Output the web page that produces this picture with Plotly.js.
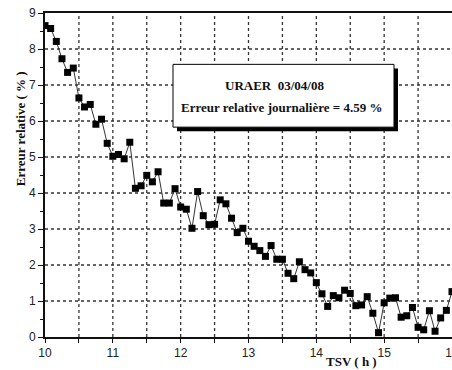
<!DOCTYPE html>
<html>
<head>
<meta charset="utf-8">
<script src="https://cdn.plot.ly/plotly-3.0.1.min.js"></script>
<style>
  html, body { margin: 0; padding: 0; background: #fff; }
  #chart { width: 452px; height: 370px; }
</style>
</head>
<body>
<div id="chart"></div>
<script>
// Solar time (h), one reading every 5 minutes
const tsv = [
  10.000, 10.083, 10.167, 10.250, 10.333, 10.417, 10.500, 10.583, 10.667, 10.750,
  10.833, 10.917, 11.000, 11.083, 11.167, 11.250, 11.333, 11.417, 11.500, 11.583,
  11.667, 11.750, 11.833, 11.917, 12.000, 12.083, 12.167, 12.250, 12.333, 12.417,
  12.500, 12.583, 12.667, 12.750, 12.833, 12.917, 13.000, 13.083, 13.167, 13.250,
  13.333, 13.417, 13.500, 13.583, 13.667, 13.750, 13.833, 13.917, 14.000, 14.083,
  14.167, 14.250, 14.333, 14.417, 14.500, 14.583, 14.667, 14.750, 14.833, 14.917,
  15.000, 15.083, 15.167, 15.250, 15.333, 15.417, 15.500, 15.583, 15.667, 15.750,
  15.833, 15.917, 16.000
];

// Relative error (%)
const erreurRelative = [
  8.65, 8.57, 8.21, 7.73, 7.35, 7.47, 6.64, 6.39, 6.46, 5.91,
  6.05, 5.38, 5.02, 5.07, 4.95, 5.41, 4.13, 4.20, 4.49, 4.31,
  4.59, 3.72, 3.72, 4.12, 3.61, 3.55, 3.02, 4.04, 3.37, 3.12,
  3.13, 3.81, 3.70, 3.30, 2.90, 3.02, 2.66, 2.52, 2.40, 2.24,
  2.54, 2.16, 2.16, 1.77, 1.62, 2.09, 1.87, 1.78, 1.51, 1.20,
  0.85, 1.15, 1.09, 1.30, 1.21, 0.87, 0.89, 1.12, 0.66, 0.12,
  0.95, 1.08, 1.09, 0.55, 0.59, 0.82, 0.27, 0.20, 0.73, 0.16,
  0.53, 0.74, 1.26
];

const xTicks = [10, 11, 12, 13, 14, 15, 16];
const xGrid = [10.5, 11, 11.5, 12, 12.5, 13, 13.5, 14, 14.5, 15, 15.5];
const yTicks = [0, 1, 2, 3, 4, 5, 6, 7, 8, 9];
const yGrid = [1, 2, 3, 4, 5, 6, 7, 8];

const stationLabel = "URAER  03/04/08";
const dailyLabel = "Erreur relative journalière = 4.59 %";
const xTitle = "TSV ( h )";
const yTitle = "Erreur relative ( % )";

const serif = "Liberation Serif, Times New Roman, serif";
const sans = "Liberation Sans, Arial, sans-serif";
const gridStyle = { color: "#333", width: 1.3, dash: "dot" };

const trace = {
  x: tsv,
  y: erreurRelative,
  type: "scatter",
  mode: "lines+markers",
  line: { color: "#333", width: 1 },
  marker: { symbol: "square", size: 7, color: "#000" },
  hoverinfo: "skip"
};

// Dotted grid drawn as line shapes under the data
const gridShapes = [];
xGrid.forEach(v => gridShapes.push({
  type: "line", layer: "below", xref: "x", yref: "paper",
  x0: v, x1: v, y0: 0, y1: 1, line: gridStyle
}));
yGrid.forEach(v => gridShapes.push({
  type: "line", layer: "below", xref: "paper", yref: "y",
  x0: 0, x1: 1, y0: v, y1: v, line: gridStyle
}));

// Box geometry in paper units
const bx0 = 0.3145, bx1 = 0.8575, by0 = 0.6477, by1 = 0.8415;
const sdx = 0.0098, sdy = 0.0125;

const layout = {
  width: 452,
  height: 370,
  margin: { l: 45, r: 0, t: 12.5, b: 32.5 },
  paper_bgcolor: "#fff",
  plot_bgcolor: "#fff",
  showlegend: false,
  xaxis: {
    range: [10, 16],
    tickvals: xTicks,
    ticktext: xTicks.map(String),
    ticklabeloverflow: "allow",
    showgrid: false,
    zeroline: false,
    showline: true,
    linecolor: "#111",
    linewidth: 2,
    mirror: true,
    ticks: "outside",
    ticklen: 4,
    tickwidth: 1,
    tickcolor: "#111",
    tickfont: { family: sans, size: 12, color: "#222" },
    minor: {
      dtick: 0.5,
      tick0: 10,
      ticks: "outside",
      ticklen: 4,
      tickcolor: "#111",
      showgrid: false
    }
  },
  yaxis: {
    range: [0, 9],
    tickvals: yTicks,
    ticktext: yTicks.map(String),
    showgrid: false,
    zeroline: false,
    showline: true,
    linecolor: "#111",
    linewidth: 2,
    mirror: true,
    ticks: "outside",
    ticklen: 5,
    tickwidth: 1,
    tickcolor: "#111",
    tickfont: { family: sans, size: 12, color: "#222" },
    minor: {
      dtick: 0.5,
      tick0: 0,
      ticks: "outside",
      ticklen: 3,
      tickcolor: "#111",
      showgrid: false
    }
  },
  shapes: gridShapes.concat([
    {
      type: "rect", xref: "paper", yref: "paper",
      x0: bx0 + sdx, x1: bx1 + sdx, y0: by0 - sdy, y1: by1 - sdy,
      fillcolor: "#000", line: { width: 0 }
    },
    {
      type: "rect", xref: "paper", yref: "paper",
      x0: bx0, x1: bx1, y0: by0, y1: by1,
      fillcolor: "#fff", line: { color: "#000", width: 1 }
    }
  ]),
  annotations: [
    {
      text: "<b>" + stationLabel + "</b>",
      xref: "paper", yref: "paper", x: 0.565, y: 0.777,
      xanchor: "center", yanchor: "middle", showarrow: false,
      font: { family: serif, size: 13, color: "#111" }
    },
    {
      text: "<b>" + dailyLabel + "</b>",
      xref: "paper", yref: "paper", x: 0.582, y: 0.709,
      xanchor: "center", yanchor: "middle", showarrow: false,
      font: { family: serif, size: 13, color: "#111" }
    },
    {
      text: "<b>" + xTitle + "</b>",
      xref: "paper", yref: "paper", x: 0.754, y: -0.0754,
      xanchor: "center", yanchor: "middle", showarrow: false,
      font: { family: serif, size: 13, color: "#111" }
    },
    {
      text: "<b>" + yTitle + "</b>",
      xref: "paper", yref: "paper", x: -0.0614, y: 0.6415,
      xanchor: "center", yanchor: "middle", showarrow: false,
      textangle: -90,
      font: { family: serif, size: 13, color: "#111" }
    }
  ]
};

Plotly.newPlot("chart", [trace], layout, { staticPlot: true, displayModeBar: false });
</script>
</body>
</html>
